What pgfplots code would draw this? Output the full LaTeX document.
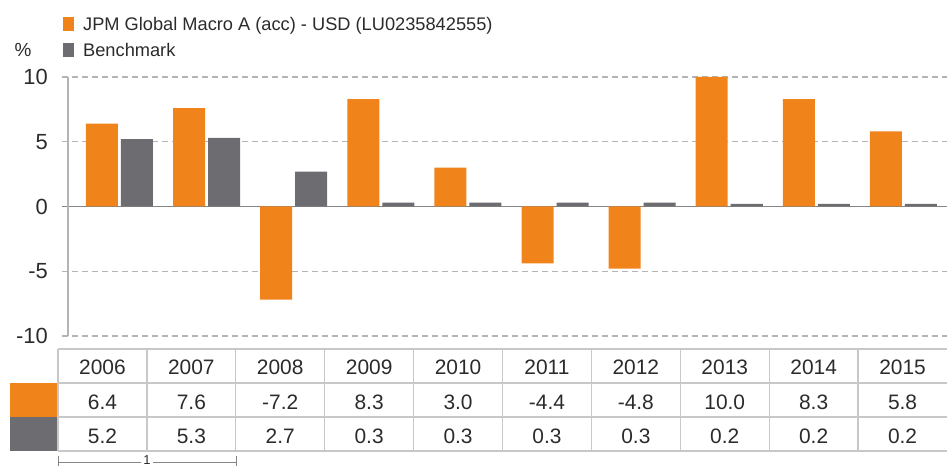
\documentclass[border=0pt]{standalone}
\usepackage{fontspec}
\setmainfont{Liberation Sans}
\usepackage{pgfplots}
\pgfplotsset{compat=1.18}
\definecolor{fundor}{HTML}{F0841A}
\definecolor{bench}{HTML}{6D6D71}
\definecolor{gridc}{HTML}{B4B4B4}
\definecolor{zeroc}{HTML}{858585}
\definecolor{txt}{HTML}{2B2B2B}
\definecolor{tabl}{HTML}{C8C8C8}
\begin{document}
\begin{tikzpicture}[x=1bp,y=1bp]
\useasboundingbox (0,0) rectangle (947,466);
\begin{axis}[at={(62bp,130bp)}, anchor=south west, scale only axis,
  width=885bp, height=259bp,
  xmin=-0.66, xmax=9.5, ymin=-10, ymax=10,
  axis line style={draw=none},
  xtick=\empty, ytick={-10,-5,0,5,10},
  ymajorgrids,
  grid style={gridc, line width=1.3bp, dash pattern=on 6bp off 4bp},
  major tick length=0pt,
  yticklabel style={inner sep=0pt, xshift=-14bp, font=\fontsize{22}{24}\selectfont, text=txt},
  /pgf/number format/assume math mode=true,
  clip=false]
\draw[zeroc, line width=1.5bp] (axis cs:-0.66,0) -- (axis cs:9.5,0);
\draw[gridc, line width=2bp] (axis cs:-0.59,-10) -- (axis cs:-0.59,10);
\addplot[ybar, bar width=32bp, bar shift=-17.5bp, fill=fundor, draw=none] coordinates {
(0,6.4) (1,7.6) (2,-7.2) (3,8.3) (4,3.0) (5,-4.4) (6,-4.8) (7,10.0) (8,8.3) (9,5.8)};
\addplot[ybar, bar width=32bp, bar shift=17.5bp, fill=bench, draw=none] coordinates {
(0,5.2) (1,5.3) (2,2.7) (3,0.3) (4,0.3) (5,0.3) (6,0.3) (7,0.2) (8,0.2) (9,0.2)};
\end{axis}
% legend
\fill[fundor] (63,466-31) rectangle (74,466-17);
\node[anchor=base west, inner sep=0pt, text=txt, font=\fontsize{18.3}{20}\selectfont] at (83,466-30.5) {JPM Global Macro A (acc) - USD (LU0235842555)};
\fill[bench] (63,466-57) rectangle (74,466-43);
\node[anchor=base west, inner sep=0pt, text=txt, font=\fontsize{18.3}{20}\selectfont] at (83,466-56.5) {Benchmark};
\node[anchor=base, inner sep=0pt, text=txt, font=\fontsize{19}{20}\selectfont] at (23,466-56.5) {\%};
% table
\fill[fundor] (10,466-417) rectangle (58,466-383);
\fill[bench] (10,466-451) rectangle (58,466-417);
\foreach \k in {0,...,9} \draw[tabl, line width=1.3bp] ({58+\k*88.9},466-349) -- ({58+\k*88.9},466-451);
\foreach \py in {349,383,417,451} \draw[tabl, line width=1.3bp] (58,466-\py) -- (947,466-\py);
\foreach \t [count=\i from 0] in {2006,2007,2008,2009,2010,2011,2012,2013,2014,2015}
  \node[anchor=base, inner sep=0pt, text=txt, font=\fontsize{21}{23}\selectfont] at ({102.45+\i*88.9},466-375) {\t};
\foreach \t [count=\i from 0] in {6.4,7.6,-7.2,8.3,3.0,-4.4,-4.8,10.0,8.3,5.8}
  \node[anchor=base, inner sep=0pt, text=txt, font=\fontsize{21}{23}\selectfont] at ({102.45+\i*88.9},466-410) {\t};
\foreach \t [count=\i from 0] in {5.2,5.3,2.7,0.3,0.3,0.3,0.3,0.2,0.2,0.2}
  \node[anchor=base, inner sep=0pt, text=txt, font=\fontsize{21}{23}\selectfont] at ({102.45+\i*88.9},466-444) {\t};
% scale bracket
\draw[zeroc, line width=1bp] (58,466-463) -- (236,466-463);
\draw[zeroc, line width=1bp] (58,466-456) -- (58,0);
\draw[zeroc, line width=1bp] (236,466-456) -- (236,0);
\node[fill=white, inner xsep=2bp, inner ysep=0pt, anchor=base, text=txt, font=\fontsize{13}{14}\selectfont] at (147,466-464.5) {1};
\end{tikzpicture}
\end{document}
